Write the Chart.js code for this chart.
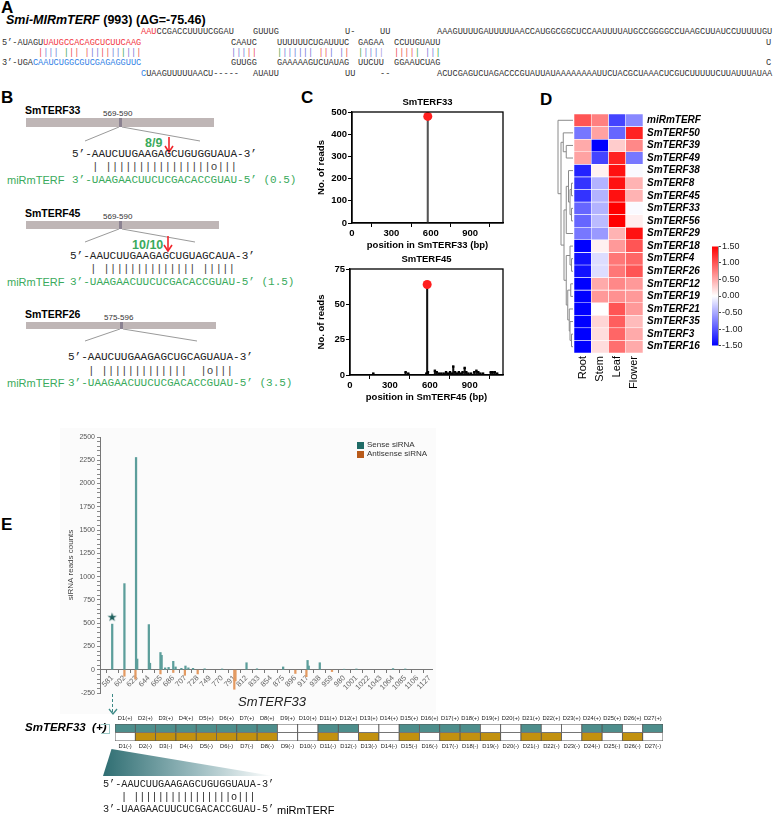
<!DOCTYPE html>
<html>
<head>
<meta charset="utf-8">
<script src="https://cdn.jsdelivr.net/npm/chart.js@4.4.1/dist/chart.umd.min.js"></script>
<style>
  body { margin:0; background:#fff; }
  #page { position:relative; width:778px; height:815px; overflow:hidden; font-family:'Liberation Sans', Arial, sans-serif; color:#000; }
  .t { position:absolute; white-space:pre; }
  .seqA { position:absolute; white-space:pre; font-family:'Liberation Mono', monospace; font-size:8.6px; line-height:10px; color:#333; }
  .seqB { position:absolute; white-space:pre; font-family:'Liberation Mono', monospace; font-size:11px; line-height:14px; color:#222; }
  .seqE { position:absolute; white-space:pre; font-family:'Liberation Mono', monospace; font-size:10.2px; line-height:12px; color:#222; }
  .lbl { position:absolute; font-weight:bold; font-size:17px; line-height:17px; }
  .gname { position:absolute; font-weight:bold; font-size:10.5px; line-height:12px; }
  .pos { position:absolute; font-size:8px; line-height:10px; color:#333; }
  .gbar { position:absolute; background:#bfb6b6; }
  .mark { position:absolute; background:#8b8291; width:3px; }
  .mir { position:absolute; font-size:11px; line-height:14px; color:#3aaa5c; }
  .frac { position:absolute; font-weight:bold; font-size:12.5px; line-height:14px; color:#3aaa5c; }
  .red { color:#f2363f; } .blu { color:#2f7fe6; } .grn { color:#3aaa5c; }
  .chart { position:absolute; }
</style>
</head>
<body>
<div id="page">

  <!-- A -->
  <div class="lbl" style="left:1px;top:-1px">A</div>
  <div class="t" style="left:6px;top:13px;font-size:12.5px;font-weight:bold"><i>Smi-MIRmTERF</i> (993) (ΔG=-75.46)</div>

  <div class="seqA" style="left:141px;top:27px"><span class="red">AAU</span>CCGACCUUUUCGGAU</div>
  <div class="seqA" style="left:253px;top:27px">GUUUG</div>
  <div class="seqA" style="left:345px;top:27px">U-</div>
  <div class="seqA" style="left:380px;top:27px">UU</div>
  <div class="seqA" style="left:437px;top:27px">AAAGUUUUGAUUUUUAACCAUGGCGGCUCCAAUUUUAUGCCGGGGCCUAAGCUUAUCCUUUUUGU</div>

  <div class="seqA" style="left:2px;top:38px">5’-AUAGU<span class="red">UAUGCCACAGCUCUUCAAG</span></div>
  <div class="seqA" style="left:231px;top:38px">CAAUC</div>
  <div class="seqA" style="left:277px;top:38px">UUUUUUCUGAUUUC</div>
  <div class="seqA" style="left:358px;top:38px">GAGAA</div>
  <div class="seqA" style="left:394px;top:38px">CCUUGUAUU</div>
  <div class="seqA" style="left:766px;top:38px">U</div>

  <div class="seqA" style="left:38px;top:48px" data-bars="rbbb grr rbbrrbbgbbr"></div>
  <div class="seqA" style="left:231px;top:48px" data-bars="bbbrr"></div>
  <div class="seqA" style="left:277px;top:48px" data-bars="gbbbbbb rrb br"></div>
  <div class="seqA" style="left:358px;top:48px" data-bars="gbbbp"></div>
  <div class="seqA" style="left:394px;top:48px" data-bars="rrrrg bbg"></div>

  <div class="seqA" style="left:2px;top:58px">3’-UGA<span class="blu">CAAUCUGGCGUCGAGAGGUUC</span></div>
  <div class="seqA" style="left:231px;top:58px">GUUGG</div>
  <div class="seqA" style="left:277px;top:58px">GAAAAAGUCUAUAG</div>
  <div class="seqA" style="left:358px;top:58px">UUCUU</div>
  <div class="seqA" style="left:394px;top:58px">GGAAUCUAG</div>
  <div class="seqA" style="left:766px;top:58px">C</div>

  <div class="seqA" style="left:141px;top:69px"><span class="blu">C</span>UAAGUUUUUAACU-----</div>
  <div class="seqA" style="left:253px;top:69px">AUAUU</div>
  <div class="seqA" style="left:345px;top:69px">UU</div>
  <div class="seqA" style="left:380px;top:69px">--</div>
  <div class="seqA" style="left:437px;top:69px">ACUCGAGUCUAGACCCGUAUUAUAAAAAAAAUUCUACGCUAAACUCGUCUUUUUCUUAUUUAUAA</div>

  <!-- B -->
  <div class="lbl" style="left:1px;top:89px">B</div>
  <svg class="t" style="left:0;top:0" width="300" height="400">
    <g stroke="#9a9a9a" stroke-width="1" fill="none">
      <line x1="119" y1="127" x2="85" y2="141"/><line x1="122" y1="127" x2="200" y2="141"/>
      <line x1="119" y1="229" x2="85" y2="242"/><line x1="122" y1="229" x2="195" y2="242"/>
      <line x1="120" y1="329" x2="85" y2="341"/><line x1="123" y1="329" x2="197" y2="341"/>
    </g>
    <g stroke="#f0262c" stroke-width="1.6" fill="none">
      <line x1="169" y1="137" x2="169" y2="151"/><polyline points="165,146 169,152 173,146"/>
      <line x1="168" y1="236" x2="168" y2="250"/><polyline points="164,245 168,251 172,245"/>
    </g>
  </svg>

  <div class="gname" style="left:25px;top:104px">SmTERF33</div>
  <div class="gbar" style="left:26px;top:118px;width:188px;height:9px"></div>
  <div class="mark" style="left:119px;top:118px;height:9px"></div>
  <div class="pos" style="left:103px;top:109px">569-590</div>
  <div class="frac" style="left:145px;top:136px">8/9</div>
  <div class="seqB" style="left:72px;top:147px">5’-AAUCUUGAAGAGCUGUGGUAUA-3’</div>
  <div class="seqB" style="left:92px;top:160px;color:#444">| ||||||||||||||||o|||</div>
  <div class="mir" style="left:7px;top:173px">miRmTERF</div>
  <div class="seqB grn" style="left:72px;top:173px">3’-UAAGAACUUCUCGACACCGUAU-5’ (0.5)</div>

  <div class="gname" style="left:25px;top:207px">SmTERF45</div>
  <div class="gbar" style="left:26px;top:221px;width:193px;height:8px"></div>
  <div class="mark" style="left:119px;top:221px;height:8px"></div>
  <div class="pos" style="left:103px;top:212px">569-590</div>
  <div class="frac" style="left:132px;top:238px">10/10</div>
  <div class="seqB" style="left:70px;top:249px">5’-AAUCUUGAAGAGCUGUAGCAUA-3’</div>
  <div class="seqB" style="left:90px;top:262px;color:#444">| |||||||||||||| |||||</div>
  <div class="mir" style="left:7px;top:275px">miRmTERF</div>
  <div class="seqB grn" style="left:70px;top:275px">3’-UAAGAACUUCUCGACACCGUAU-5’ (1.5)</div>

  <div class="gname" style="left:25px;top:308px">SmTERF26</div>
  <div class="gbar" style="left:26px;top:322px;width:190px;height:7px"></div>
  <div class="mark" style="left:120px;top:322px;height:7px"></div>
  <div class="pos" style="left:104px;top:313px">575-596</div>
  <div class="seqB" style="left:68px;top:350px">5’-AAUCUUGAAGAGCUGCAGUAUA-3’</div>
  <div class="seqB" style="left:88px;top:364px;color:#444">| |||||||||||||  |o|||</div>
  <div class="mir" style="left:7px;top:376px">miRmTERF</div>
  <div class="seqB grn" style="left:68px;top:376px">3’-UAAGAACUUCUCGACACCGUAU-5’ (3.5)</div>

  <!-- C -->
  <div class="lbl" style="left:301px;top:89px">C</div>
  <div class="chart" style="left:316px;top:95px;width:194px;height:156px"><canvas id="c33"></canvas></div>
  <div class="chart" style="left:316px;top:252px;width:194px;height:151px"><canvas id="c45"></canvas></div>

  <!-- D -->
  <div class="lbl" style="left:540px;top:91px">D</div>
  <div class="chart" style="left:540px;top:100px;width:173px;height:305px"><canvas id="heat"></canvas></div>
  <div class="chart" style="left:700px;top:240px;width:48px;height:112px"><canvas id="cbar"></canvas></div>

  <!-- E -->
  <div class="lbl" style="left:1px;top:516px">E</div>
  <div class="t" style="left:60px;top:428px;width:376px;height:286px;background:#fbfbfb"></div>
  <div class="chart" style="left:66px;top:425px;width:374px;height:280px"><canvas id="srna"></canvas></div>
  <div class="t" style="left:357px;top:442px;width:7px;height:7px;background:#1f6b66"></div>
  <div class="t" style="left:367px;top:440px;font-size:8px;color:#333">Sense siRNA</div>
  <div class="t" style="left:357px;top:451px;width:7px;height:7px;background:#b85a1a"></div>
  <div class="t" style="left:367px;top:449px;font-size:8px;color:#333">Antisense siRNA</div>
  <div class="t" style="left:238px;top:694px;font-size:13px;font-style:italic;color:#222">SmTERF33</div>

  <!-- phasing -->
  <div class="t" style="left:112px;top:694px;height:18px;border-left:1.5px dashed #3d8a87"></div>
  <svg class="t" style="left:108px;top:708px" width="10" height="8"><polyline points="1,1 5,6 9,1" stroke="#3d8a87" stroke-width="1.3" fill="none"/></svg>
  <div class="t" style="left:25px;top:721px;font-size:11.5px;font-weight:bold;font-style:italic">SmTERF33  (+)</div>
  <div class="t" style="left:101px;top:724px;width:8px;height:8px;border:1.5px solid #9cc9c6;border-left:none"></div>
  <div class="chart" style="left:110px;top:708px;width:558px;height:46px"><canvas id="phase"></canvas></div>
  <div class="t" style="left:103px;top:749px;width:170px;height:27px;clip-path:polygon(5% 0,0 100%,100% 100%);background:linear-gradient(to right,#2f6e72,#9cbcc0 55%,#ffffff)"></div>
  <div class="seqE" style="left:103px;top:779px">5’-AAUCUUGAAGAGCUGUGGUAUA-3’</div>
  <div class="seqE" style="left:121px;top:792px">| ||||||||||||||||o|||</div>
  <div class="seqE" style="left:103px;top:804px">3’-UAAGAACUUCUCGACACCGUAU-5’</div>
  <div class="t" style="left:277px;top:803px;font-size:11px;line-height:14px">miRmTERF</div>
</div>

<script>
// ---- panel C: degradome reads
const peakPos33 = [577];
const peakReads33 = [480];
const peakPos45 = [580];
const peakReads45 = [64];
const smallPos45 = [175, 418, 438, 574, 586, 638, 652, 668, 686, 704, 722, 738, 752, 766, 776, 790, 804, 818, 832, 846, 862, 874, 890, 910, 934, 950, 964, 980, 1000, 1058, 1072, 1088, 1106];
const smallReads45 = [1, 2, 1, 1, 2, 3, 2, 1, 1, 1, 2, 1, 2, 1, 6, 2, 1, 2, 1, 2, 5, 2, 1, 1, 2, 3, 2, 1, 1, 2, 2, 2, 1];
const cTicks = [0, 300, 600, 900];

// ---- panel D: expression heatmap (z-scores)
const tissues = ['Root', 'Stem', 'Leaf', 'Flower'];
const genes = ['miRmTERF', 'SmTERF50', 'SmTERF39', 'SmTERF49', 'SmTERF38', 'SmTERF8', 'SmTERF45', 'SmTERF33', 'SmTERF56', 'SmTERF29',
               'SmTERF18', 'SmTERF4', 'SmTERF26', 'SmTERF12', 'SmTERF19', 'SmTERF21', 'SmTERF35', 'SmTERF3', 'SmTERF16'];
const rootVals   = [1.0, -0.8, 0.5, 0.55, -1.3, -1.2, -1.2, -0.9, -0.9, -0.8, -1.5, -1.4, -1.4, -1.5, -1.5, -1.5, -1.5, -1.5, -1.5];
const stemVals   = [0.75, 0.55, -1.5, -1.1, 0.08, -0.45, -0.45, -0.45, -0.4, -0.6, 0.08, -0.2, -0.2, 0.5, 0.6, 0.0, 0.25, 0.2, 0.2];
const leafVals   = [-1.1, -0.9, 0.3, 1.3, 1.4, 1.4, 1.4, 1.5, 1.5, 0.45, 0.6, 0.8, 0.8, 0.7, 0.65, 1.0, 0.95, 0.9, 0.85];
const flowerVals = [-0.7, 1.3, 0.7, -0.8, -0.03, 0.45, 0.45, -0.03, 0.1, 1.4, 1.0, 0.9, 1.0, 0.6, 0.6, 0.6, 0.4, 0.5, 0.5];
const colorTicks = [-1.5, -1.0, -0.5, 0, 0.5, 1.0, 1.5];

// ---- panel E: siRNA reads along SmTERF33
const posTicks = [581, 602, 623, 644, 665, 686, 707, 728, 749, 770, 791, 812, 833, 854, 875, 896, 917, 938, 959, 980, 1001, 1022, 1043, 1064, 1085, 1106, 1127];
const sensePos   = [581, 602, 622, 624, 644, 646, 664, 666, 672, 678, 686, 690, 700, 707, 712, 720, 740, 770, 812, 830, 875, 917, 919, 938, 980, 1001, 1064, 1085];
const senseReads = [490, 925, 2280, 115, 485, 70, 185, 155, 20, 25, 90, 30, 15, 40, 20, 15, 10, 8, 75, 10, 30, 100, 40, 75, 5, 8, 12, 8];
const antiPos    = [602, 621, 664, 686, 706, 728, 791, 793, 896, 915, 959];
const antiReads  = [-70, -100, -45, -30, -60, -45, -210, -120, -40, -75, -20];
const starPos = [581];
const starReads = [565];

// ---- phasing register
const phaseIds = ['D1','D2','D3','D4','D5','D6','D7','D8','D9','D10','D11','D12','D13','D14','D15','D16','D17','D18','D19','D20','D21','D22','D23','D24','D25','D26','D27'];
const plusHit  = [1,1,1,1,1,1,1,1,0,0,1,1,0,0,1,1,1,1,0,0,1,0,0,1,1,0,1];
const minusHit = [0,1,1,1,1,1,1,1,0,0,1,0,1,0,1,0,1,1,1,0,1,1,0,1,0,1,0];

// bars of panel A hairpin
const barColors = { r: '#ec4a52', b: '#7474d6', g: '#40a84c', p: '#a79ee0' };
document.querySelectorAll('[data-bars]').forEach(el => {
    el.innerHTML = [...el.dataset.bars].map(c => c === ' ' ? ' ' : `<span style="color:${barColors[c]}">|</span>`).join('');
});

Chart.defaults.font.family = "'Liberation Sans', Arial, sans-serif";
Chart.defaults.animation = false;
Chart.defaults.plugins.legend.display = false;
Chart.defaults.plugins.tooltip.enabled = false;

const noGrid = { display: false, drawTicks: false, tickLength: 0 };

const frame = {
    id: 'frame',
    afterDraw(chart) {
        const { ctx, chartArea: a } = chart;
        ctx.save();
        ctx.strokeStyle = '#000';
        ctx.lineWidth = 1.3;
        ctx.strokeRect(a.left, a.top, a.right - a.left, a.bottom - a.top);
        ctx.restore();
    }
};

function lollipop(id, title, xTitle, ymax, ystep, yw, stemColor, px, py, sx, sy) {
    const bold = { size: 9.5, weight: 'bold' };
    const stems = px.map((x, i) => ({ x, y: py[i] })).concat(sx.map((x, i) => ({ x, y: sy[i] })));
    new Chart(document.getElementById(id), {
        type: 'bar',
        data: {
            datasets: [
                { data: stems, backgroundColor: stemColor, barThickness: 1.4, order: 3 },
                { type: 'scatter', data: sx.map((x, i) => ({ x, y: sy[i] })), pointStyle: 'rect', pointRadius: 1.7, backgroundColor: '#000', borderWidth: 0, order: 2 },
                { type: 'scatter', data: px.map((x, i) => ({ x, y: py[i] })), pointRadius: 4.5, backgroundColor: '#ff1e1e', borderWidth: 0, order: 1 }
            ]
        },
        options: {
            responsive: true, maintainAspectRatio: false,
            layout: { padding: { left: 0, right: 7, top: 1.6, bottom: 0 } },
            plugins: { title: { display: true, text: title, fullSize: false, color: '#000', font: bold, padding: { top: 0, bottom: 4 } } },
            scales: {
                x: {
                    type: 'linear', min: 0, max: 1150, offset: false,
                    afterBuildTicks: s => { s.ticks = cTicks.map(v => ({ value: v })); },
                    ticks: { color: '#000', font: bold, padding: 1, callback: v => String(v) },
                    grid: { drawOnChartArea: false, color: '#000', tickLength: 4 },
                    border: { color: '#000', width: 1.3 },
                    title: { display: !!xTitle, text: xTitle, color: '#000', font: bold, padding: 0 },
                    afterFit: s => { s.height = 28; }
                },
                y: {
                    min: 0, max: ymax,
                    ticks: { stepSize: ystep, color: '#000', font: bold, padding: 1 },
                    grid: { drawOnChartArea: false, color: '#000', tickLength: 4 },
                    border: { color: '#000', width: 1.3 },
                    title: { display: true, text: 'No. of reads', color: '#000', font: bold, padding: 0 },
                    afterFit: s => { s.width = yw; }
                }
            }
        },
        plugins: [frame]
    });
}

lollipop('c33', 'SmTERF33', 'position in SmTERF33 (bp)', 500, 100, 36, '#555', peakPos33, peakReads33, [], []);
lollipop('c45', 'SmTERF45', 'position in SmTERF45 (bp)', 75, 25, 34, '#111', peakPos45, peakReads45, smallPos45, smallReads45);

// heatmap
function heatColor(v) {
    const t = Math.min(1, Math.abs(v) / 1.5);
    const c = Math.round(255 * (1 - t));
    return v >= 0 ? `rgb(255,${c},${c})` : `rgb(${c},${c},255)`;
}
const tissueVals = [rootVals, stemVals, leafVals, flowerVals];

// rough clustering tree: [left, right, height]
const tree = [0, [[1, [2, 3, 0.45], 0.65],
                  [[[4, [[5, 6, 0.1], [7, 8, 0.1], 0.2], 0.3], 9, 0.45],
                   [[10, [11, 12, 0.1], 0.2], [[13, 14, 0.15], [15, [16, [17, 18, 0.1], 0.2], 0.25], 0.35], 0.45], 0.6], 0.8], 1.0];

const dendro = {
    id: 'dendro',
    afterDraw(chart) {
        const { ctx, chartArea } = chart;
        const ys = chart.scales.g;
        const x0 = chartArea.left - 1;
        ctx.save();
        ctx.strokeStyle = '#8a8a8a';
        ctx.lineWidth = 1;
        const walk = n => {
            if (typeof n === 'number') return { x: x0, y: ys.getPixelForTick(n) };
            const a = walk(n[0]), b = walk(n[1]);
            const hx = x0 - n[2] * 15;
            ctx.beginPath();
            ctx.moveTo(a.x, a.y); ctx.lineTo(hx, a.y);
            ctx.lineTo(hx, b.y); ctx.lineTo(b.x, b.y);
            ctx.stroke();
            return { x: hx, y: (a.y + b.y) / 2 };
        };
        walk(tree);
        ctx.restore();
    }
};

new Chart(document.getElementById('heat'), {
    type: 'bar',
    data: {
        labels: tissues,
        datasets: genes.map((g, i) => ({
            label: g,
            data: tissues.map(() => 1),
            backgroundColor: tissueVals.map(arr => heatColor(arr[i])),
            borderColor: '#ffffff', borderWidth: 0.6, borderSkipped: false,
            barPercentage: 1, categoryPercentage: 1
        }))
    },
    options: {
        responsive: true, maintainAspectRatio: false,
        layout: { padding: { left: 34, top: 14, right: 0, bottom: 0 } },
        scales: {
            x: {
                stacked: true,
                grid: noGrid, border: { display: false },
                ticks: { minRotation: 90, maxRotation: 90, color: '#000', font: { size: 11 }, padding: 3 },
                afterFit: s => { s.height = 52; }
            },
            y: { stacked: true, reverse: true, min: 0, max: genes.length, display: false },
            g: {
                type: 'category', labels: genes, position: 'right', offset: true,
                grid: noGrid, border: { display: false },
                ticks: { color: '#000', autoSkip: false, padding: 4, font: { size: 10, weight: 'bold', style: 'italic' } },
                afterFit: s => { s.width = 70; }
            }
        }
    },
    plugins: [dendro]
});

new Chart(document.getElementById('cbar'), {
    type: 'bar',
    data: {
        labels: [''],
        datasets: [{
            data: [[colorTicks[0], colorTicks[colorTicks.length - 1]]],
            barPercentage: 1, categoryPercentage: 1, borderWidth: 0,
            backgroundColor: ctx => {
                const a = ctx.chart.chartArea;
                if (!a) return '#fff';
                const g = ctx.chart.ctx.createLinearGradient(0, a.bottom, 0, a.top);
                g.addColorStop(0, '#0000ff'); g.addColorStop(0.5, '#ffffff'); g.addColorStop(1, '#ff0000');
                return g;
            }
        }]
    },
    options: {
        responsive: true, maintainAspectRatio: false,
        layout: { padding: { left: 12, top: 5, right: 0, bottom: 4 } },
        scales: {
            x: { display: false },
            y: {
                position: 'right', min: -1.5, max: 1.5,
                afterBuildTicks: s => { s.ticks = colorTicks.map(v => ({ value: v })); },
                ticks: { color: '#222', font: { size: 9 }, padding: 1, callback: v => v.toFixed(2) },
                grid: { drawOnChartArea: false, color: '#444', tickLength: 3 },
                border: { color: '#999' },
                afterFit: s => { s.width = 30; }
            }
        }
    }
});

// star marker for the cleavage site
const starImg = document.createElement('canvas');
starImg.width = 12; starImg.height = 12;
(() => {
    const c = starImg.getContext('2d');
    c.fillStyle = '#1d5f5c';
    c.font = '12px "DejaVu Sans"';
    c.textAlign = 'center'; c.textBaseline = 'middle';
    c.fillText('★', 6, 6.5);
})();

new Chart(document.getElementById('srna'), {
    type: 'bar',
    data: {
        datasets: [
            { label: 'Sense siRNA', data: sensePos.map((x, i) => ({ x, y: senseReads[i] })), backgroundColor: '#5c9e9b', barThickness: 1.6, grouped: false },
            { label: 'Antisense siRNA', data: antiPos.map((x, i) => ({ x, y: antiReads[i] })), backgroundColor: '#e39a62', barThickness: 1.6, grouped: false },
            { type: 'scatter', data: starPos.map((x, i) => ({ x, y: starReads[i] })), pointStyle: starImg, pointRadius: 6 }
        ]
    },
    options: {
        responsive: true, maintainAspectRatio: false,
        layout: { padding: { left: 0, right: 8, top: 12, bottom: 12 } },
        scales: {
            x: {
                type: 'linear', min: 560, max: 1131, offset: false, position: { y: 0 },
                afterBuildTicks: s => { s.ticks = posTicks.map(v => ({ value: v })); },
                ticks: { autoSkip: false, minRotation: 45, maxRotation: 45, color: '#666', font: { size: 7.5 }, padding: 1, callback: v => String(v) },
                grid: { drawOnChartArea: false, color: '#777', tickLength: 3 },
                border: { color: '#777' }
            },
            y: {
                min: -250, max: 2500,
                ticks: { stepSize: 50, maxTicksLimit: 100, autoSkip: false, color: '#555', font: { size: 7 }, padding: 2,
                         callback: v => v % 250 === 0 ? String(v) : '' },
                grid: { drawOnChartArea: false, color: '#888', tickLength: 3 },
                border: { color: '#777' },
                title: { display: true, text: 'siRNA reads counts', color: '#444', font: { size: 8 }, padding: 0 },
                afterFit: s => { s.width = 34; }
            }
        }
    }
});

// phased siRNA register boxes
new Chart(document.getElementById('phase'), {
    type: 'bar',
    data: {
        labels: phaseIds.map(d => d + '(-)'),
        datasets: [
            { data: plusHit.map(() => [1, 2]), backgroundColor: plusHit.map(f => f ? '#4d8e8c' : '#ffffff'),
              borderColor: '#555', borderWidth: 0.8, borderSkipped: false, grouped: false, barPercentage: 1, categoryPercentage: 1 },
            { data: minusHit.map(() => [0, 1]), backgroundColor: minusHit.map(f => f ? '#c2910f' : '#ffffff'),
              borderColor: '#555', borderWidth: 0.8, borderSkipped: false, grouped: false, barPercentage: 1, categoryPercentage: 1 }
        ]
    },
    options: {
        responsive: true, maintainAspectRatio: false,
        layout: { padding: { left: 5, right: 5, top: 0, bottom: 0 } },
        scales: {
            x: {
                type: 'category', position: 'bottom',
                grid: noGrid, border: { display: false },
                ticks: { autoSkip: false, maxRotation: 0, minRotation: 0, color: '#222', font: { size: 5.8 }, padding: 2 },
                afterFit: s => { s.height = 13; }
            },
            x2: {
                type: 'category', labels: phaseIds.map(d => d + '(+)'), position: 'top',
                grid: noGrid, border: { display: false },
                ticks: { autoSkip: false, maxRotation: 0, minRotation: 0, color: '#222', font: { size: 5.8 }, padding: 2 },
                afterFit: s => { s.height = 16; }
            },
            y: { min: 0, max: 2, display: false }
        }
    }
});
</script>
</body>
</html>
